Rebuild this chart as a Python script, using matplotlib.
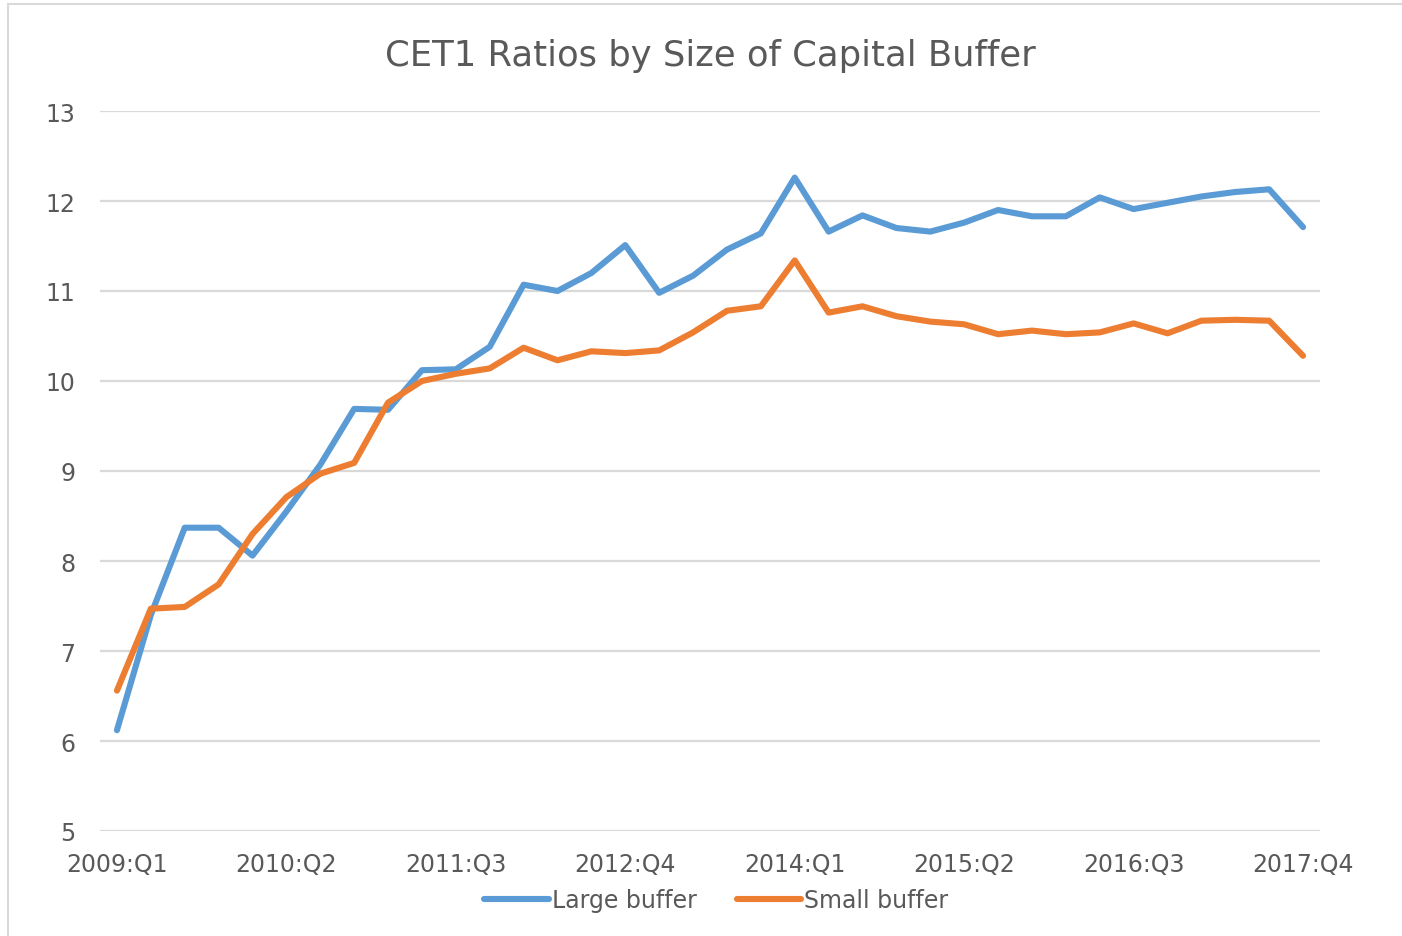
import numpy as np
import matplotlib.pyplot as plt
from matplotlib.patches import Rectangle

# quarterly CET1 ratios, 2009:Q1 .. 2017:Q4
quarters = [f"{y}:Q{q}" for y in range(2009, 2018) for q in range(1, 5)]
large_buffer = [6.12, 7.40, 8.37, 8.37, 8.06, 8.55, 9.07, 9.69, 9.68, 10.12,
                10.13, 10.38, 11.07, 11.00, 11.20, 11.51, 10.98, 11.17, 11.46, 11.64,
                12.26, 11.66, 11.84, 11.70, 11.66, 11.76, 11.90, 11.83, 11.83, 12.04,
                11.91, 11.98, 12.05, 12.10, 12.13, 11.71]
small_buffer = [6.56, 7.47, 7.49, 7.74, 8.30, 8.71, 8.97, 9.09, 9.76, 10.00,
                10.08, 10.14, 10.37, 10.23, 10.33, 10.31, 10.34, 10.54, 10.78, 10.83,
                11.34, 10.76, 10.83, 10.72, 10.66, 10.63, 10.52, 10.56, 10.52, 10.54,
                10.64, 10.53, 10.67, 10.68, 10.67, 10.28]

plt.rcParams['font.family'] = ['DejaVu Sans']
grey = '#595959'

fig = plt.figure(figsize=(14.02, 9.37), dpi=100)
ax = fig.add_axes([100/1402, 105/937, 1220/1402, 720/937])

# chart border (only top and left visible in the crop)
fig.patches.append(Rectangle((8/1402, -0.02), 1.1, 932/937 + 0.02, transform=fig.transFigure,
                             fill=False, edgecolor='#d9d9d9', linewidth=1.5))

x = np.arange(len(quarters))
ax.plot(x, large_buffer, color='#5B9BD5', lw=4.4, label='Large buffer',
        solid_joinstyle='round', solid_capstyle='round')
ax.plot(x, small_buffer, color='#ED7D31', lw=4.4, label='Small buffer',
        solid_joinstyle='round', solid_capstyle='round')

ax.set_xlim(-0.5, len(quarters) - 0.5)
ax.set_ylim(5, 13)
ax.set_yticks(range(5, 14))
ax.set_xticks(x[::5])
ax.set_xticklabels(quarters[::5])
ax.grid(axis='y', color='#d9d9d9', lw=1.6)
ax.set_axisbelow(True)
for s in ax.spines.values():
    s.set_visible(False)
ax.tick_params(length=0, labelsize=17, colors=grey)
ax.tick_params(axis='y', pad=18)
ax.tick_params(axis='x', pad=15)

ax.set_title('CET1 Ratios by Size of Capital Buffer', fontsize=25.5, color=grey, pad=33)

leg = ax.legend(loc='upper center', bbox_to_anchor=(0.505, -0.05), ncol=2, frameon=False,
                fontsize=17, handlelength=2.75, handletextpad=0.1, columnspacing=1.7,
                labelcolor=grey)

fig.savefig('out.png', dpi=100)
